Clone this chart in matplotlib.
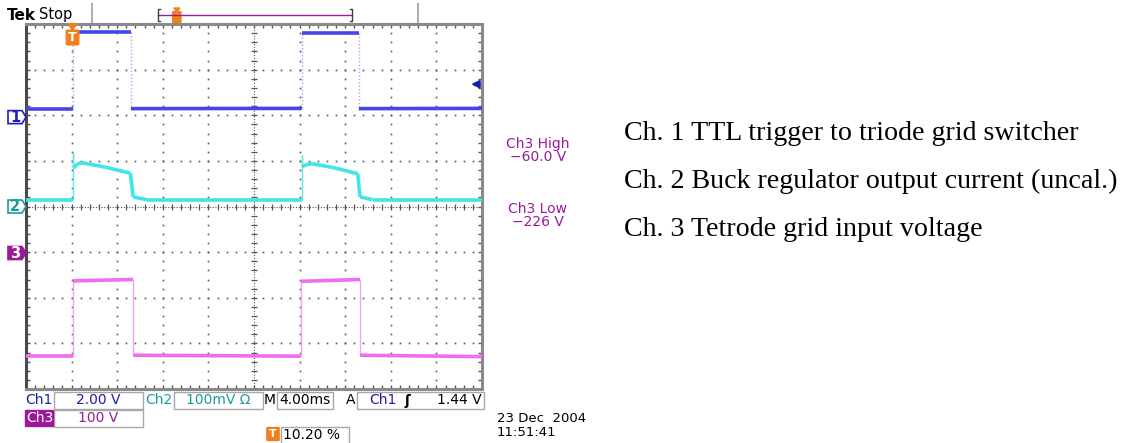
import numpy as np
import matplotlib.pyplot as plt
from matplotlib.collections import LineCollection
from matplotlib.patches import Rectangle, Polygon, FancyBboxPatch

W, H = 1125, 443

# scope settings
time_per_div = 4.0      # ms/div
trigger_pct = 10.20     # trigger position, % of record
trigger_level = 1.44    # V on Ch1
ch3_high = "−60.0 V"
ch3_low = "−226 V"

ch1_scale = 2.0         # V/div
ch2_scale = 100.0       # mV/div
ch3_scale = 100.0       # V/div
ch1_pos = 1.96          # ground marker, divisions above centre
ch2_pos = 0.0
ch3_pos = -1.02

# traces (time in ms from left of screen)
ch1_t = [0, 4.1, 4.1, 9.2, 9.2, 24.2, 24.2, 29.2, 29.2, 40]
ch1_v = [0.36, 0.36, 3.74, 3.74, 0.37, 0.38, 3.70, 3.70, 0.37, 0.38]

ch2_t = [0, 4.15, 4.15, 4.15, 4.5, 4.9, 7.0, 9.15, 9.15, 9.4, 10.6,
         24.2, 24.2, 24.2, 24.6, 25.1, 27.0, 29.1, 29.1, 29.3, 30.4, 40]
ch2_mv = [14, 14, 120, 84, 93, 96, 86, 73, 73, 21, 15,
          15, 113, 87, 92, 94, 85, 72, 72, 21, 15, 15]

ch3_t = [0, 4.1, 4.1, 9.4, 9.4, 24.1, 24.1, 29.3, 29.3, 40]
ch3_v = [-226, -226, -61, -58, -224, -226, -62, -58, -224, -227]

labels_right = ["Ch. 1 TTL trigger to triode grid switcher",
                "Ch. 2 Buck regulator output current (uncal.)",
                "Ch. 3 Tetrode grid input voltage"]

blue_txt = "#1c1ca8"
teal_txt = "#1a9c9c"
purple_txt = "#9a1a9a"
orange = "#f07f1e"


def fx(x):
    return x / W


def fy(y):
    return 1 - y / H


def draw_trace(ax, t, v, pos, scale, color, edge_color, edge_ls="-"):
    d = [pos + val / scale for val in v]
    flat, edges = [], []
    for i in range(len(t) - 1):
        seg = [(t[i], d[i]), (t[i + 1], d[i + 1])]
        (edges if t[i] == t[i + 1] else flat).append(seg)
    ax.add_collection(LineCollection(edges, colors=edge_color, linewidths=1.0,
                                     linestyles=edge_ls, zorder=3))
    ax.add_collection(LineCollection(flat, colors=color, linewidths=2.6,
                                     capstyle="butt", zorder=4))


def box(fig, x0, y0, x1, y1, fc="white", ec="#a8a8a8"):
    fig.add_artist(Rectangle((fx(x0), fy(y1)), fx(x1 - x0), (y1 - y0) / H,
                             transform=fig.transFigure, fc=fc, ec=ec, lw=1))


def ch_marker(fig, yc, label, color, filled):
    pts = [(8, yc - 6.5), (22, yc - 6.5), (26, yc), (22, yc + 6.5), (8, yc + 6.5)]
    fig.add_artist(Polygon([(fx(a), fy(b)) for a, b in pts], closed=True,
                           transform=fig.transFigure, lw=1.2,
                           fc=color if filled else "white", ec=color))
    fig.text(fx(15), fy(yc), label, ha="center", va="center", fontsize=10.5,
             color="white" if filled else color, fontweight="bold")


fig = plt.figure(figsize=(W / 100, H / 100), dpi=100)
fig.patch.set_facecolor("white")

left, top, right, bottom = 26, 24, 482, 389
ax = fig.add_axes([fx(left), fy(bottom), fx(right - left), (bottom - top) / H])
ax.set_xlim(0, 10 * time_per_div)
ax.set_ylim(-4, 4)

# graticule
ax.set_xticks(np.arange(0, 40.1, time_per_div))
ax.set_xticks(np.arange(0, 40.1, time_per_div / 5), minor=True)
ax.set_yticks(np.arange(-4, 4.1, 1))
ax.set_yticks(np.arange(-4, 4.1, 0.2), minor=True)
ax.tick_params(which="both", direction="in", length=3, width=1, color="#555555",
               top=True, right=True, labelbottom=False, labelleft=False)
for side, sp in ax.spines.items():
    sp.set_color("#4a4a4a" if side == "left" else "#8a8a8a")
    sp.set_linewidth(2.2)

gx = np.arange(4, 40, 4)
gy = np.arange(-3, 4, 1)
mx = np.arange(0, 40.01, 0.8)
my = np.arange(-4, 4.01, 0.2)
for xv in gx:
    if xv != 20:
        ax.plot(np.full(len(my), xv), my, ls="", marker="s", ms=1.2, color="#555555", mew=0)
for yv in gy:
    if yv != 0:
        ax.plot(mx, np.full(len(mx), yv), ls="", marker="s", ms=1.2, color="#555555", mew=0)
ax.axhline(0, color="#555555", lw=0.8, ls=(0, (1, 1.5)), zorder=1)
ax.axvline(20, color="#555555", lw=0.8, ls=(0, (1, 1.5)), zorder=1)
ax.plot(mx, np.zeros(len(mx)), ls="", marker="|", ms=5, color="#555555", mew=0.9)
ax.plot(np.full(len(my), 20), my, ls="", marker="_", ms=5, color="#555555", mew=0.9)

# traces
draw_trace(ax, ch3_t, ch3_v, ch3_pos, ch3_scale, "#f06cf0", "#f5a0f5")
draw_trace(ax, ch2_t, ch2_mv, ch2_pos, ch2_scale, "#3ee6e6", "#5ee8e8")
draw_trace(ax, ch1_t, ch1_v, ch1_pos, ch1_scale, "#4646e6", "#a8a8f2", (0, (1, 1.5)))

# trigger level arrow on the right edge
lvl = ch1_pos + trigger_level / ch1_scale
ax.annotate("", xy=(38.8, lvl), xytext=(40, lvl),
            arrowprops=dict(arrowstyle="-|>", color="#1c1ca8", lw=1.6,
                            mutation_scale=11), annotation_clip=False)

# trigger position marker on top of graticule
tx = left + trigger_pct / 100 * (right - left)
fig.add_artist(Polygon([(fx(tx - 4.5), fy(24)), (fx(tx + 4.5), fy(24)), (fx(tx), fy(30))],
                       transform=fig.transFigure, fc=orange, ec=orange))
fig.add_artist(FancyBboxPatch((fx(tx - 4), fy(44)), fx(8), 13 / H,
                              boxstyle="round,pad=0.002", transform=fig.transFigure,
                              fc=orange, ec=orange))
fig.text(fx(tx), fy(37.5), "T", ha="center", va="center", color="white",
         fontsize=9, fontweight="bold")

# channel ground markers
ch_marker(fig, 206.5 - ch1_pos * 45.6, "1", "#2020b0", False)
ch_marker(fig, 206.5 - ch2_pos * 45.6, "2", "#1a9c9c", False)
ch_marker(fig, 206.5 - ch3_pos * 45.6, "3", "#9a1a9a", True)

# header
fig.text(fx(7), fy(15), "Tek", fontsize=11, fontweight="bold", va="center", color="black")
fig.text(fx(39), fy(15), "Stop", fontsize=10.5, va="center", color="black")
for xv in (92, 418):
    fig.add_artist(plt.Line2D([fx(xv), fx(xv)], [fy(4), fy(22)],
                              transform=fig.transFigure, color="#b0b0b0", lw=1.5))
fig.add_artist(plt.Line2D([fx(158), fx(352)], [fy(15), fy(15)],
                          transform=fig.transFigure, color="#9a1a9a", lw=1))
for xv, d in ((158, 2), (352, -2)):
    fig.add_artist(plt.Line2D([fx(xv + d), fx(xv), fx(xv), fx(xv + d)],
                              [fy(9), fy(9), fy(21), fy(21)],
                              transform=fig.transFigure, color="#404040", lw=1))
px = 158 + trigger_pct / 100 * (352 - 158) - 1
fig.add_artist(Polygon([(fx(px - 3), fy(8)), (fx(px + 3), fy(8)), (fx(px), fy(12))],
                       transform=fig.transFigure, fc=orange, ec=orange))
fig.add_artist(FancyBboxPatch((fx(px - 3), fy(22)), fx(6), 10 / H,
                              boxstyle="round,pad=0.001", transform=fig.transFigure,
                              fc=orange, ec=orange))

# measurement readouts
for y, s in ((144, "Ch3 High"), (157, ch3_high), (209, "Ch3 Low"), (222, ch3_low)):
    fig.text(fx(538), fy(y), s, ha="center", va="center", fontsize=10, color=purple_txt)

# status bar
fs = 10
box(fig, 54, 392, 143, 409)
box(fig, 174, 392, 263, 409)
box(fig, 277, 392, 333, 409)
box(fig, 357, 392, 484, 409)
box(fig, 54, 410, 143, 427)
box(fig, 25, 410, 53, 426, fc="#9a1a9a", ec="#9a1a9a")
box(fig, 281, 427, 349, 444)
fig.add_artist(FancyBboxPatch((fx(268), fy(440)), fx(10), 12 / H,
                              boxstyle="round,pad=0.001", transform=fig.transFigure,
                              fc=orange, ec=orange))
fig.text(fx(273), fy(434), "T", ha="center", va="center", color="white",
         fontsize=8, fontweight="bold")

fig.text(fx(25), fy(400.5), "Ch1", fontsize=fs, va="center", color=blue_txt)
fig.text(fx(98), fy(400.5), "2.00 V", fontsize=fs, va="center", ha="center", color=blue_txt)
fig.text(fx(145), fy(400.5), "Ch2", fontsize=fs, va="center", color=teal_txt)
fig.text(fx(218), fy(400.5), "100mV Ω", fontsize=fs, va="center", ha="center", color=teal_txt)
fig.text(fx(264), fy(400.5), "M", fontsize=fs, va="center", color="black")
fig.text(fx(279), fy(400.5), "4.00ms", fontsize=fs, va="center", color="black")
fig.text(fx(346), fy(400.5), "A", fontsize=fs, va="center", color="black")
fig.text(fx(369), fy(400.5), "Ch1", fontsize=fs, va="center", color=blue_txt)
fig.text(fx(407), fy(400.5), "ʃ", fontsize=fs, va="center", ha="center",
         color="black", fontweight="bold")
fig.text(fx(482), fy(400.5), "1.44 V", fontsize=fs, va="center", ha="right", color="black")
fig.text(fx(26), fy(418.5), "Ch3", fontsize=fs, va="center", color="white")
fig.text(fx(98), fy(418.5), "100 V", fontsize=fs, va="center", ha="center", color=purple_txt)
fig.text(fx(283), fy(435), "10.20 %", fontsize=fs, va="center", color="black")
fig.text(fx(497), fy(419), "23 Dec  2004", fontsize=9.5, va="center", color="black")
fig.text(fx(497), fy(433), "11:51:41", fontsize=9.5, va="center", color="black")

# caption on the right
for y, s in zip((133, 181, 229), labels_right):
    fig.text(fx(624), fy(y), s, fontsize=20.2, va="center",
             family="Liberation Serif", color="black")

fig.savefig("out.png", dpi=100)
